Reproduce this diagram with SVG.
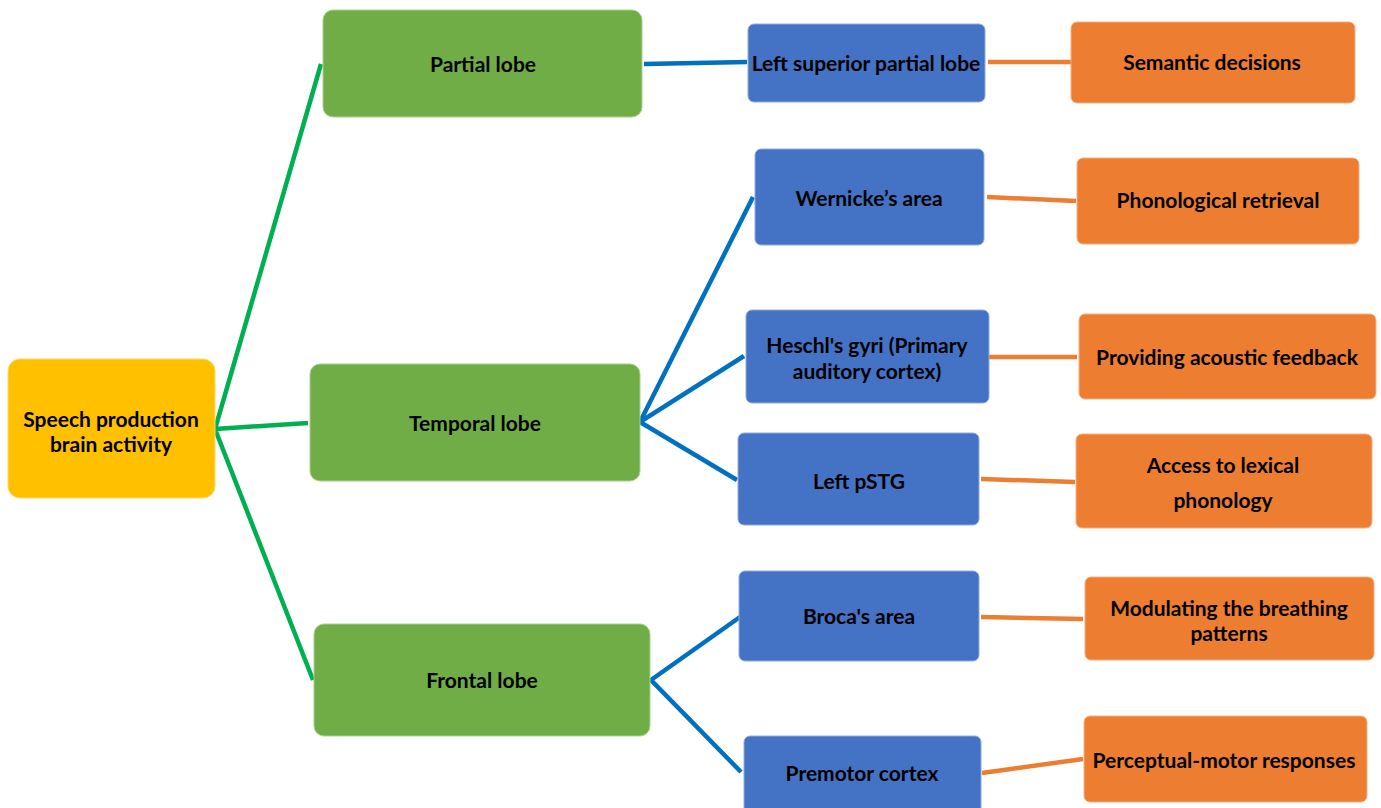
<svg xmlns="http://www.w3.org/2000/svg" width="1381" height="808" viewBox="0 0 1381 808">
<style>
.t{font-family:Lato,"Liberation Sans",sans-serif;font-weight:bold;font-size:21px;fill:#000;text-anchor:middle;dominant-baseline:central}
.y{fill:#FFC000;stroke:#FFD966;stroke-width:1}
.g{fill:#70AD47;stroke:#A9D18E;stroke-width:1}
.b{fill:#4472C4;stroke:#8FAADC;stroke-width:1}
.o{fill:#ED7D31;stroke:#F4B183;stroke-width:1}
.lg{stroke:#00B050;stroke-width:4.5;fill:none}
.lb{stroke:#0070C0;stroke-width:4.5;fill:none}
.lo{stroke:#ED7D31;stroke-width:4.5;fill:none}
</style>
<rect width="1381" height="808" fill="#fff"/>
<g id="connectors">
<path class="lg" d="M321,64 L215,429 L308,423 M215,429 L313,680"/>
<path class="lb" d="M644,64 L747,62"/>
<path class="lb" d="M753,197 L640,422 L744,356 M640,422 L737,480"/>
<path class="lb" d="M740,617 L651,680 L741,772"/>
<path class="lo" d="M988,62 L1071,62"/>
<path class="lo" d="M987,197 L1076,201"/>
<path class="lo" d="M989,357 L1077,357"/>
<path class="lo" d="M981,479 L1075,482"/>
<path class="lo" d="M981,617 L1083,619"/>
<path class="lo" d="M982,773 L1083,759"/>
</g>
<g id="root"><rect class="y" x="8" y="359" width="207" height="139" rx="12"/><text class="t" x="111" y="418">Speech production</text><text class="t" x="111" y="443">brain activity</text></g>
<g id="partial"><rect class="g" x="323" y="10" width="319" height="107" rx="10"/><text class="t" x="483" y="63">Partial lobe</text></g>
<g id="temporal"><rect class="g" x="310" y="364" width="330" height="117" rx="10"/><text class="t" x="475" y="422">Temporal lobe</text></g>
<g id="frontal"><rect class="g" x="314" y="624" width="336" height="112" rx="10"/><text class="t" x="482" y="679">Frontal lobe</text></g>
<g id="lspl"><rect class="b" x="748" y="24" width="237" height="78" rx="6"/><text class="t" x="866" y="62">Left superior partial lobe</text></g>
<g id="wernicke"><rect class="b" x="755" y="149" width="229" height="96" rx="6"/><text class="t" x="869" y="197">Wernicke’s area</text></g>
<g id="heschl"><rect class="b" x="746" y="310" width="243" height="93" rx="6"/><text class="t" x="867" y="344">Heschl's gyri (Primary</text><text class="t" x="867" y="370">auditory cortex)</text></g>
<g id="pstg"><rect class="b" x="738" y="433" width="241" height="92" rx="6"/><text class="t" x="859" y="480">Left pSTG</text></g>
<g id="broca"><rect class="b" x="739" y="571" width="240" height="90" rx="6"/><text class="t" x="859" y="615">Broca's area</text></g>
<g id="premotor"><rect class="b" x="744" y="736" width="237" height="80" rx="6"/><text class="t" x="862" y="772">Premotor cortex</text></g>
<g id="semantic"><rect class="o" x="1071" y="22" width="284" height="81" rx="6"/><text class="t" x="1212" y="61">Semantic decisions</text></g>
<g id="phono"><rect class="o" x="1077" y="158" width="282" height="86" rx="6"/><text class="t" x="1218" y="199">Phonological retrieval</text></g>
<g id="acoustic"><rect class="o" x="1079" y="314" width="297" height="85" rx="6"/><text class="t" x="1227" y="356">Providing acoustic feedback</text></g>
<g id="lexical"><rect class="o" x="1076" y="434" width="296" height="94" rx="6"/><text class="t" x="1223" y="464">Access to lexical</text><text class="t" x="1223" y="499">phonology</text></g>
<g id="breathing"><rect class="o" x="1085" y="577" width="289" height="83" rx="6"/><text class="t" x="1229" y="607">Modulating the breathing</text><text class="t" x="1229" y="632">patterns</text></g>
<g id="perceptual"><rect class="o" x="1084" y="716" width="283" height="86" rx="6"/><text class="t" x="1224" y="759">Perceptual-motor responses</text></g>
</svg>
